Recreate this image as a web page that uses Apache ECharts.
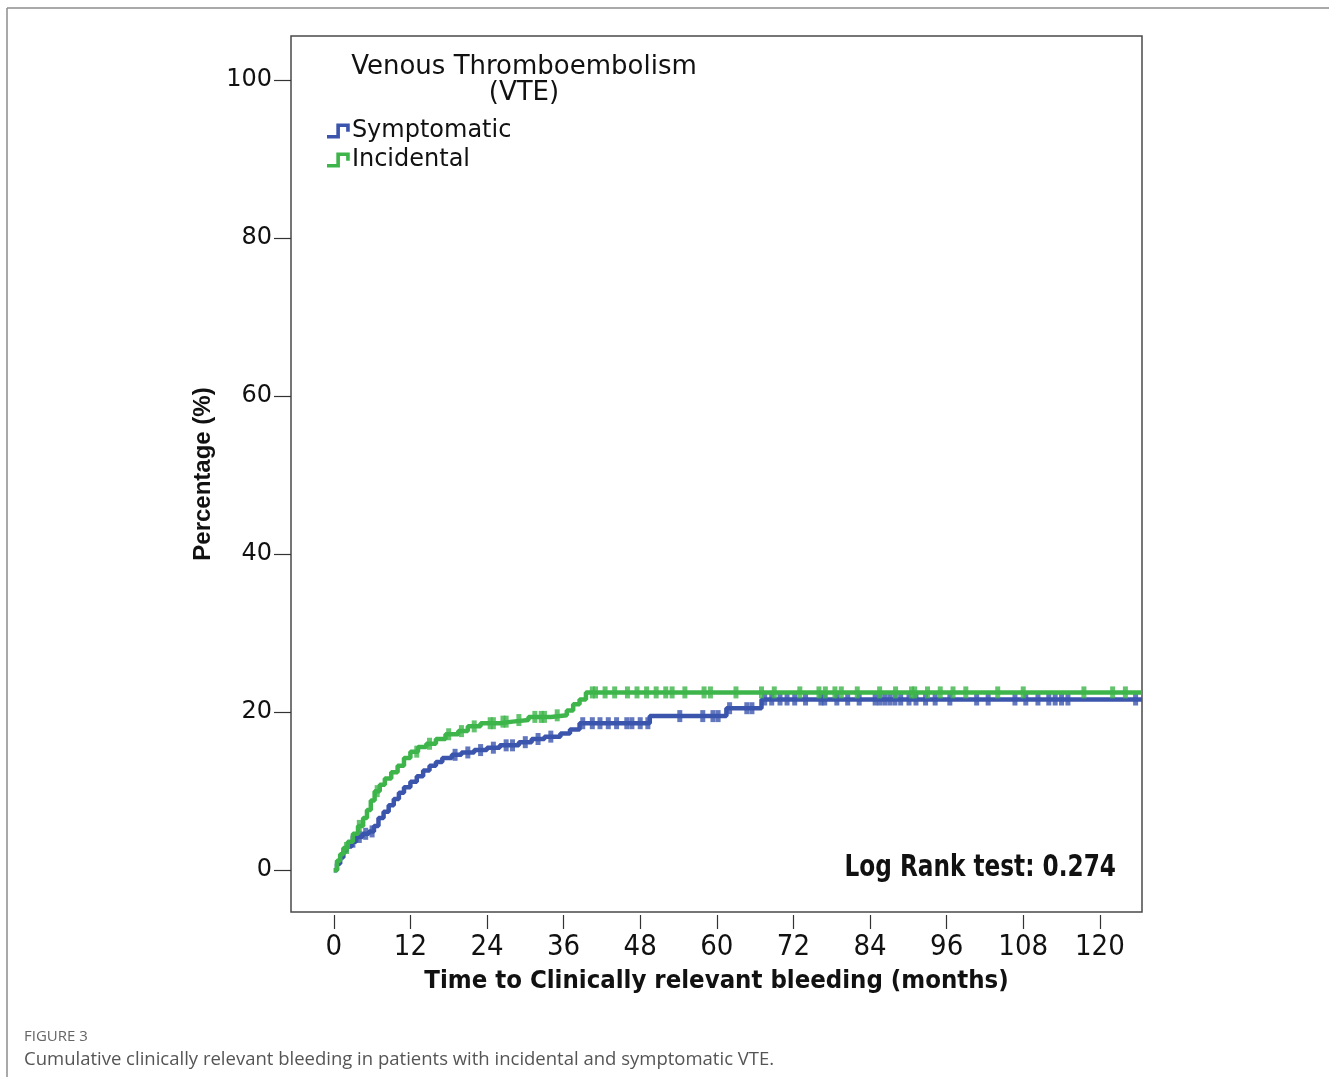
<!DOCTYPE html>
<html>
<head>
<meta charset="utf-8">
<script src="https://cdn.jsdelivr.net/npm/echarts@6/dist/echarts.min.js"></script>
<style>
  html, body { margin: 0; padding: 0; background: #fff; }
  #chart { width: 1329px; height: 1077px; }
</style>
</head>
<body>
<div id="chart"></div>
<script>
// Kaplan-Meier style cumulative curves (months, %)
const xTicks = [0, 12, 24, 36, 48, 60, 72, 84, 96, 108, 120];
const yTicks = [0, 20, 40, 60, 80, 100];

const symptomaticTime = [0, 0.5, 1, 1.5, 2, 2.8, 3.5, 4.5, 5.5, 6.3, 7, 7.8, 8.6, 9.4, 10.2, 11, 12, 13, 14, 15, 16, 17, 18.5, 20, 22, 24, 26, 29, 31, 33, 35.5, 37, 38.5, 49.5, 61.5, 67, 126.6];
const symptomaticPct = [0, 0.8, 1.6, 2.4, 3.0, 3.6, 4.2, 4.6, 4.9, 5.6, 6.6, 7.4, 8.2, 9.0, 9.8, 10.5, 11.2, 11.9, 12.6, 13.2, 13.7, 14.2, 14.6, 14.9, 15.2, 15.5, 15.8, 16.2, 16.6, 16.9, 17.3, 17.8, 18.6, 19.5, 20.5, 21.6, 21.6];

const incidentalTime = [0, 0.5, 1, 1.5, 2.2, 3, 3.8, 4.6, 5.2, 5.8, 6.4, 7.2, 8, 9, 10, 11, 12, 13.2, 14.5, 16, 17.5, 19.5, 21, 23, 26, 28, 30.5, 34, 36.5, 37.5, 38.5, 39.5, 126.6];
const incidentalPct = [0, 1.2, 2.0, 2.8, 3.6, 4.6, 5.6, 6.6, 7.6, 8.8, 10.0, 10.8, 11.6, 12.4, 13.2, 14.2, 15.0, 15.6, 16.0, 16.6, 17.2, 17.6, 18.2, 18.6, 18.8, 19.0, 19.4, 19.6, 20.2, 21.0, 21.6, 22.5, 22.5];

// censored observations (months)
const symptomaticCensor = [3, 4, 5, 6, 19, 21, 23, 25, 27, 28, 30, 32, 34, 39, 40.5, 41.7, 43, 44.3, 45.9, 46.7, 48, 49.2, 54.2, 57.8, 59.4, 60.2, 62, 64.7, 65.5, 67.5, 68.6, 69.9, 71, 72.2, 73.9, 76.3, 76.9, 78.8, 80.5, 82.3, 84.8, 85.5, 86.3, 87.1, 87.9, 88.8, 90.1, 91.2, 92.7, 94.2, 96.5, 100.7, 102.5, 106.7, 108.4, 110.3, 112, 113, 114, 115, 125.6];
const incidentalCensor = [2, 4, 6.8, 13, 15, 18, 20, 22, 24.5, 25, 26.5, 27, 29, 31.5, 32.5, 33, 35, 40.5, 41, 42.5, 44, 46, 47.5, 49, 50.5, 52, 53, 55, 58, 59, 63, 67, 69, 73, 76, 77, 78.5, 79.5, 82, 85.5, 88, 90.5, 91, 93, 95, 97, 99, 104, 108, 117.5, 122, 124];

const blue = '#3b55ad';
const green = '#3db54a';
const condensed = '"Liberation Sans Narrow", "DejaVu Sans Condensed", "Roboto Condensed", "Arial Narrow", sans-serif';

function stepPoints(times, pcts) {
    return times.map((t, i) => [t, pcts[i]]);
}

function valueAt(times, pcts, t) {
    let v = 0;
    for (let i = 0; i < times.length; i++) {
        if (times[i] <= t) v = pcts[i];
    }
    return v;
}

function censorPoints(censor, times, pcts) {
    return censor.map(t => [t, valueAt(times, pcts, t)]);
}

// little step-shaped legend symbol
const stepIcon = 'path://M0,11 L9,11 L9,0 L22,0 L22,8 L18.5,8 L18.5,3.5 L12.5,3.5 L12.5,14.5 L0,14.5 Z';

const chart = echarts.init(document.getElementById('chart'));

const option = {
    backgroundColor: '#ffffff',
    animation: false,
    grid: {
        left: 291,
        top: 36,
        right: 187,
        bottom: 165,
        show: true,
        borderColor: '#4a4a4a',
        borderWidth: 1.5,
        backgroundColor: 'transparent'
    },
    legend: {
        orient: 'vertical',
        left: 322,
        top: 114,
        itemWidth: 27,
        itemHeight: 15,
        itemGap: 5,
        data: [
            { name: 'Symptomatic', icon: stepIcon, itemStyle: { color: blue } },
            { name: 'Incidental', icon: stepIcon, itemStyle: { color: green } }
        ],
        textStyle: {
            fontFamily: '"DejaVu Sans", sans-serif',
            fontSize: 24,
            color: '#111',
            padding: [0, 0, 0, -5]
        }
    },
    xAxis: {
        type: 'value',
        min: -6.7,
        max: 126.6,
        offset: 3,
        axisLine: { show: false, onZero: false },
        axisTick: {
            show: true,
            length: 14,
            lineStyle: { color: '#333', width: 1.2 },
            customValues: xTicks
        },
        axisLabel: {
            customValues: xTicks,
            margin: 18,
            color: '#111',
            fontSize: 29,
            fontFamily: condensed
        },
        splitLine: { show: false },
        name: 'Time to Clinically relevant bleeding (months)',
        nameLocation: 'middle',
        nameGap: 53,
        nameTextStyle: {
            fontFamily: condensed,
            fontWeight: 'bold',
            fontSize: 25.5,
            color: '#111'
        }
    },
    yAxis: {
        type: 'value',
        min: -5.3,
        max: 105.6,
        axisLine: { show: false, onZero: false },
        axisTick: {
            show: true,
            length: 17,
            lineStyle: { color: '#333', width: 1.2 },
            customValues: yTicks
        },
        axisLabel: {
            customValues: yTicks,
            margin: 19,
            color: '#111',
            fontSize: 24,
            fontFamily: '"DejaVu Sans", sans-serif'
        },
        splitLine: { show: false },
        name: 'Percentage (%)',
        nameLocation: 'middle',
        nameRotate: 90,
        nameGap: 76,
        nameTextStyle: {
            fontFamily: '"Liberation Sans", Arial, sans-serif',
            fontWeight: 'bold',
            fontSize: 24,
            color: '#111'
        }
    },
    series: [
        {
            name: 'Symptomatic',
            type: 'line',
            step: 'end',
            showSymbol: false,
            data: stepPoints(symptomaticTime, symptomaticPct),
            lineStyle: { color: blue, width: 4.5 },
            itemStyle: { color: blue },
            z: 2
        },
        {
            name: 'Symptomatic',
            type: 'scatter',
            symbol: 'rect',
            symbolSize: [5, 12],
            data: censorPoints(symptomaticCensor, symptomaticTime, symptomaticPct),
            itemStyle: { color: blue },
            z: 2
        },
        {
            name: 'Incidental',
            type: 'line',
            step: 'end',
            showSymbol: false,
            data: stepPoints(incidentalTime, incidentalPct),
            lineStyle: { color: green, width: 4.5 },
            itemStyle: { color: green },
            z: 3
        },
        {
            name: 'Incidental',
            type: 'scatter',
            symbol: 'rect',
            symbolSize: [5, 12],
            data: censorPoints(incidentalCensor, incidentalTime, incidentalPct),
            itemStyle: { color: green },
            z: 3
        }
    ],
    graphic: [
        // outer figure frame
        { type: 'line', shape: { x1: 7, y1: 8, x2: 1329, y2: 8 }, style: { stroke: '#8c8c8c', lineWidth: 1.5 } },
        { type: 'line', shape: { x1: 7, y1: 8, x2: 7, y2: 1077 }, style: { stroke: '#8c8c8c', lineWidth: 1.5 } },
        // legend title
        {
            type: 'text',
            style: {
                text: 'Venous Thromboembolism\n(VTE)',
                x: 524, y: 54,
                align: 'center',
                fontFamily: '"DejaVu Sans", sans-serif',
                fontSize: 26,
                lineHeight: 26,
                fill: '#111'
            }
        },
        {
            type: 'text',
            x: 1116, y: 868,
            scaleX: 0.86,
            style: {
                text: 'Log Rank test: 0.274',
                x: 0, y: 0,
                align: 'right',
                verticalAlign: 'middle',
                fontFamily: condensed,
                fontWeight: 'bold',
                fontSize: 30,
                fill: '#111'
            }
        },
        {
            type: 'text',
            style: {
                text: 'FIGURE 3',
                x: 24, y: 1037,
                verticalAlign: 'middle',
                fontFamily: '"Open Sans", sans-serif',
                fontSize: 15,
                fill: '#666'
            }
        },
        {
            type: 'text',
            style: {
                text: 'Cumulative clinically relevant bleeding in patients with incidental and symptomatic VTE.',
                x: 24, y: 1060,
                verticalAlign: 'middle',
                fontFamily: '"Open Sans", sans-serif',
                fontSize: 18.5,
                fill: '#555'
            }
        }
    ]
};

chart.setOption(option);
</script>
</body>
</html>
